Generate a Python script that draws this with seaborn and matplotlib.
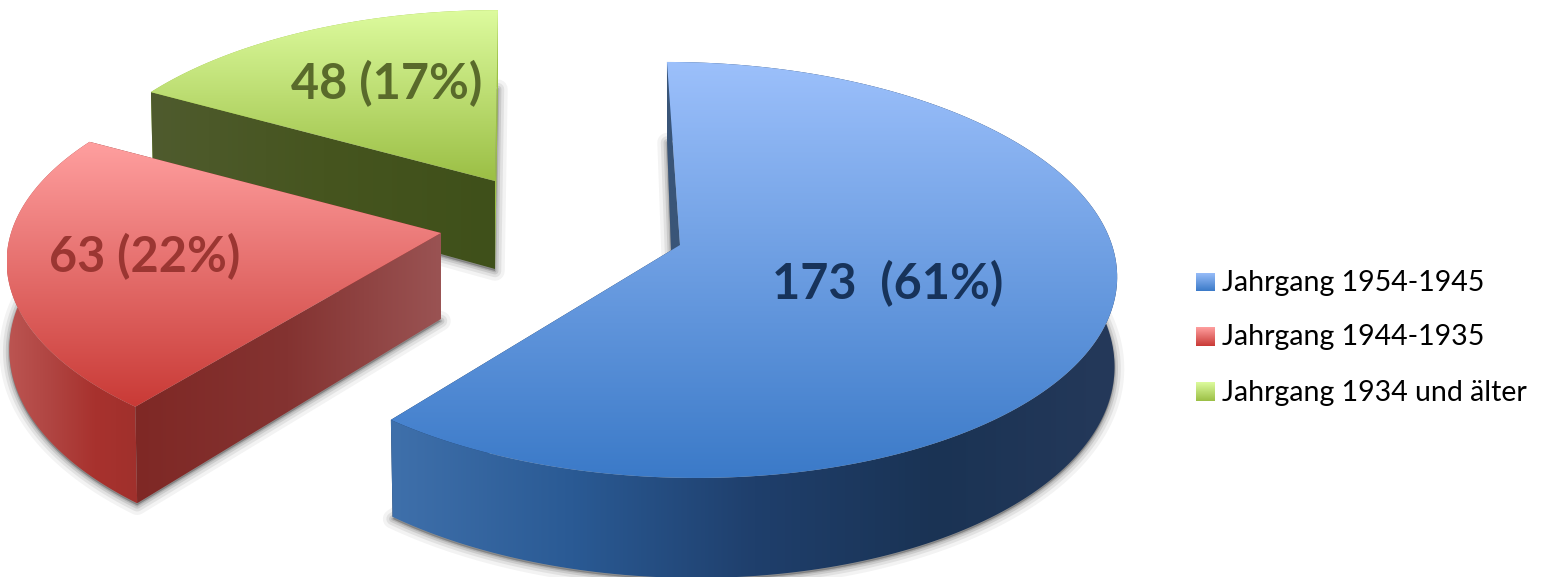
# Jahrgaenge - explodierter 3D-Kuchen, nachgebaut mit seaborn/matplotlib
import numpy as np
import matplotlib
matplotlib.use("Agg")
import matplotlib.pyplot as plt
from matplotlib.patches import Polygon
import seaborn as sns

# --- Daten ---
jahrgaenge = ["Jahrgang 1954-1945", "Jahrgang 1944-1935", "Jahrgang 1934 und älter"]
anzahl = [173, 63, 48]
beschriftung = ["173  (61%)", "63 (22%)", "48 (17%)"]

# --- Aussehen ---
sns.set_theme(style="white")
plt.rcParams["font.family"] = ["Lato", "DejaVu Sans"]

# cx, cy, a, b, k (Perspektive), sk (Scherung), Tiefe, Neigung der Schnittkante
geometrie = [
    (680, 245, 432, 205, 0.12, -14.6, 88, -6),
    (441, 233, 430, 200, 0.141, 0, 86, 0),
    (495, 181, 423, 195, 0.141, 3.4, 88, 0),
]
oben_farben = [["#9CC0FB", "#3B7AC8"], ["#FF9F9F", "#C93A36"], ["#DDFB9E", "#9BBF45"]]
rand_farben = [
    ["#3F70AB", "#2A5A94", "#1F3F6C", "#1A3354", "#25395A"],
    ["#BC5552", "#B04542", "#A8322E", "#A0302C"],
    ["#9CC046", "#9CC046"],
]
schnitt_farben = [
    ["#3A5578", "#3A5578"],
    ["#7F2825", "#843331", "#9A5353"],
    ["#4F5B2E", "#46551F", "#3F501A"],
]
ende_farben = ["#1A3354", "#7F2825", "#9CC046"]
text_farben = ["#17335A", "#9B3632", "#596A2B"]
text_pos = [(888, 284), (145, 257), (387, 84)]
legende_y = [283, 337.5, 392.5]

fig = plt.figure(figsize=(15.54, 5.77), dpi=100)
ax = fig.add_axes([0, 0, 1, 1])
ax.set_xlim(0, 1554)
ax.set_ylim(577, 0)
ax.axis("off")


def punkt(theta, g):
    cx, cy, a, b, k, sk, tiefe, neig = g
    u, v = np.cos(theta), np.sin(theta)
    p = 1 / (1 + k * v)
    x = cx + a * u * p + sk * v * p
    y = cy - b * v * p
    # untere Kante: leicht nach innen und um die Tiefe nach unten
    return x, y, x + (cx - x) * 0.006, y + tiefe * p


def verlauf(xy, farben, richtung, z):
    cmap = sns.blend_palette(farben, n_colors=256, as_cmap=True)
    xy = np.asarray(xy)
    x0, x1 = xy[:, 0].min(), xy[:, 0].max()
    y0, y1 = xy[:, 1].min(), xy[:, 1].max()
    werte = np.linspace(0, 1, 256)
    werte = werte.reshape(-1, 1) if richtung == "v" else werte.reshape(1, -1)
    im = ax.imshow(werte, cmap=cmap, extent=(x0, x1, y1, y0), aspect="auto",
                   origin="upper", zorder=z, interpolation="bilinear")
    im.set_clip_path(Polygon(xy, transform=ax.transData))


# --- Kuchenstuecke: Winkel kommen aus den Daten ---
anteile = np.array(anzahl) / sum(anzahl) * 2 * np.pi
ende_w = np.pi / 2 - np.cumsum(anteile)
start_w = ende_w + anteile

for i in [2, 1, 0]:
    g = geometrie[i]
    cx, cy, tiefe, neig = g[0], g[1], g[6], g[7]
    z = (3 - i) * 10
    th = np.linspace(start_w[i], ende_w[i], 200)
    x, y, xb, yb = punkt(th, g)
    mitte_b = (cx + neig, cy + tiefe)
    oben = [(cx, cy)] + list(zip(x, y))
    unten = [mitte_b] + list(zip(xb, yb))

    # weicher Schatten unter dem Boden
    for lw, al in [(14, 0.07), (9, 0.11), (5, 0.16), (2, 0.22)]:
        ax.add_patch(Polygon([(px, py + 2) for px, py in unten], closed=True, facecolor="#555555",
                             edgecolor="#555555", lw=lw, alpha=al, zorder=z, joinstyle="round"))

    # Schnittflaechen
    flaeche_e = [(cx, cy), (x[-1], y[-1]), (xb[-1], yb[-1]), mitte_b]
    ax.fill(*zip(*flaeche_e), color=ende_farben[i], zorder=z + 1, lw=0)
    rand = list(zip(x, y)) + list(zip(xb[::-1], yb[::-1]))
    verlauf(rand, rand_farben[i], "h", z + 2)
    flaeche_s = [(x[0], y[0]), (cx, cy), mitte_b, (xb[0], yb[0])]
    verlauf(flaeche_s, schnitt_farben[i], "h", z + 3)

    # Deckflaeche
    verlauf(oben, oben_farben[i], "v", z + 4)

    ax.text(text_pos[i][0], text_pos[i][1], beschriftung[i], color=text_farben[i],
            fontsize=35, fontweight="bold", ha="center", va="center", zorder=50)

    # Legende
    ly = legende_y[i]
    quadrat = [(1196, ly - 10.5), (1215, ly - 10.5), (1215, ly + 8.5), (1196, ly + 8.5)]
    verlauf(quadrat, oben_farben[i], "v", 60)
    ax.text(1222, ly, jahrgaenge[i], color="black", fontsize=20.5, ha="left", va="center", zorder=60)

ax.set_xlim(0, 1554)
ax.set_ylim(577, 0)
fig.savefig("out.png", dpi=100, facecolor="white")
